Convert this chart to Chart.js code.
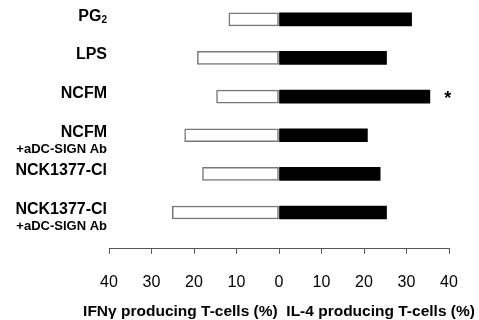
<!DOCTYPE html>
<html>
<head>
<meta charset="utf-8">
<script src="https://cdn.jsdelivr.net/npm/chart.js@4.4.1/dist/chart.umd.min.js"></script>
<style>
  html, body { margin: 0; padding: 0; background: #fff; }
  #wrap { width: 479px; height: 320px; }
</style>
</head>
<body>
<div id="wrap"><canvas id="myChart"></canvas></div>
<script>
// categories (main label, subscript, second line)
const mainLabels = ["PG", "LPS", "NCFM", "NCFM", "NCK1377-Cl", "NCK1377-Cl"];
const subscripts = ["2", "", "", "", "", ""];
const subLabels = ["", "", "", "+aDC-SIGN Ab", "", "+aDC-SIGN Ab"];
const significance = ["", "", "*", "", "", ""];

// values (%)
const ifnValues = [11.8, 19.2, 14.7, 22.2, 18.0, 25.1];
const il4Values = [31.2, 25.3, 35.5, 20.8, 23.8, 25.3];

const xTicks = [-40, -30, -20, -10, 0, 10, 20, 30, 40];
const xTitle = "IFN\u03b3 producing T-cells (%)  IL-4 producing T-cells (%)";

const fontFamily = "'Liberation Sans', Arial, Helvetica, sans-serif";
Chart.defaults.font.family = fontFamily;
Chart.defaults.color = "#000";

// category labels, significance star and the axis title (the built-in title gets squeezed to the chart width)
const labelPlugin = {
    id: "labelPlugin",
    afterDraw(chart) {
        const ctx = chart.ctx;
        const yScale = chart.scales.y;
        const xScale = chart.scales.x;
        ctx.save();
        ctx.fillStyle = "#000";
        ctx.textBaseline = "middle";
        for (let i = 0; i < mainLabels.length; i++) {
            const c = yScale.getPixelForValue(i);
            const right = 107;
            ctx.textAlign = "right";
            let x = right;
            if (subscripts[i]) {
                ctx.font = "bold 10px " + fontFamily;
                ctx.fillText(subscripts[i], x, c + 1);
                x -= ctx.measureText(subscripts[i]).width;
            }
            ctx.font = "bold 16px " + fontFamily;
            ctx.fillText(mainLabels[i], x, c - 3);
            if (subLabels[i]) {
                ctx.font = "bold 13px " + fontFamily;
                ctx.fillText(subLabels[i], right, c + 14);
            }
            if (significance[i]) {
                ctx.font = "bold 18px " + fontFamily;
                ctx.textAlign = "center";
                ctx.fillText(significance[i], xScale.getPixelForValue(il4Values[i]) + 18, c + 2);
            }
        }
        ctx.font = "bold 15.5px " + fontFamily;
        ctx.textAlign = "center";
        ctx.fillText(xTitle, xScale.getPixelForValue(0), 312);
        ctx.restore();
    }
};

const rows = mainLabels.map((_, i) => i);

const myChart = new Chart(document.getElementById("myChart").getContext("2d"), {
    type: "bar",
    data: {
        datasets: [
            {
                label: "IFNy",
                data: rows.map(i => ({ x: -ifnValues[i], y: i })),
                backgroundColor: "#fff",
                borderColor: "#777",
                borderWidth: 1.5,
                borderSkipped: false,
                barThickness: 13
            },
            {
                label: "IL-4",
                data: rows.map(i => ({ x: il4Values[i], y: i })),
                backgroundColor: "#000",
                borderColor: "#000",
                borderWidth: 0,
                barThickness: 13
            }
        ]
    },
    options: {
        indexAxis: "y",
        responsive: true,
        maintainAspectRatio: false,
        animation: false,
        layout: { padding: { left: 109, right: 30, top: 0, bottom: 9 } },
        plugins: {
            legend: { display: false },
            tooltip: { enabled: false }
        },
        scales: {
            x: {
                type: "linear",
                stacked: true,
                min: -40,
                max: 40,
                afterBuildTicks: (scale) => { scale.ticks = xTicks.map(v => ({ value: v })); },
                ticks: {
                    callback: (v) => Math.abs(v),
                    font: { size: 16 },
                    padding: 19,
                    maxRotation: 0
                },
                grid: { drawOnChartArea: false, tickLength: 5, color: "#555" },
                border: { display: true, color: "#555", width: 1 },
                title: { display: false }
            },
            y: {
                type: "linear",
                stacked: true,
                reverse: true,
                offset: false,
                min: -0.5,
                max: 5.94,
                display: false
            }
        }
    },
    plugins: [labelPlugin]
});
</script>
</body>
</html>
